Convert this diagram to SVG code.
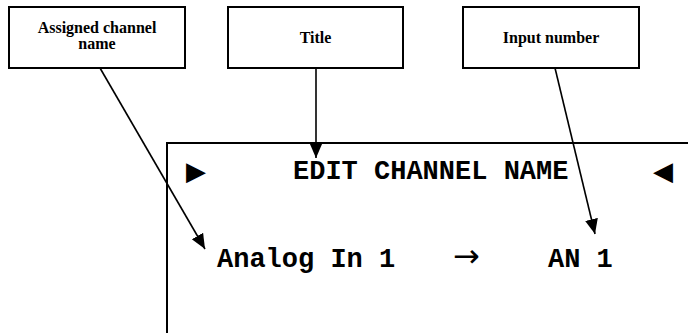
<svg xmlns="http://www.w3.org/2000/svg" width="688" height="333" viewBox="0 0 688 333">
<style>
.box{fill:#fff;stroke:#000;stroke-width:2}
.lbl{font-family:"Liberation Serif","Times New Roman",serif;font-weight:bold;font-size:16px;text-anchor:middle;fill:#000}
.lcd{font-family:"Liberation Mono","Courier New",monospace;font-weight:bold;font-size:27px;fill:#000}
.sym{font-family:"DejaVu Sans",sans-serif;font-size:26px;fill:#000}
.arr{font-family:"DejaVu Sans",sans-serif;font-size:32px;fill:#000}
.con{stroke:#000;stroke-width:1.6;fill:none}
</style>
<defs>
<marker id="ah" markerUnits="userSpaceOnUse" markerWidth="16" markerHeight="14" refX="15" refY="6.5" orient="auto">
<path d="M0,0 L15,6.5 L0,13 z" fill="#000"/>
</marker>
</defs>
<rect width="688" height="333" fill="#fff"/>
<g id="display">
<path d="M167,333 V143 H688" fill="none" stroke="#000" stroke-width="2"/>
<text class="sym" x="186" y="180">▶</text>
<text class="lcd" x="293" y="179">EDIT CHANNEL NAME</text>
<text class="sym" x="653" y="180">◀</text>
<text class="lcd" x="217" y="267">Analog In 1</text>
<text class="arr" x="453" y="267">→</text>
<text class="lcd" x="548" y="267">AN 1</text>
</g>
<g id="node-assigned">
<rect class="box" x="9" y="7" width="176" height="61"/>
<text class="lbl" x="97" y="33">Assigned channel</text>
<text class="lbl" x="97" y="49">name</text>
</g>
<g id="node-title">
<rect class="box" x="228" y="7" width="175" height="61"/>
<text class="lbl" x="315.5" y="43">Title</text>
</g>
<g id="node-input">
<rect class="box" x="463" y="7" width="176" height="61"/>
<text class="lbl" x="551" y="43">Input number</text>
</g>
<g id="connectors">
<line class="con" x1="100" y1="68" x2="205" y2="249" marker-end="url(#ah)"/>
<line class="con" x1="316" y1="68" x2="316" y2="158" marker-end="url(#ah)"/>
<line class="con" x1="555" y1="68" x2="595" y2="234" marker-end="url(#ah)"/>
</g>
</svg>
